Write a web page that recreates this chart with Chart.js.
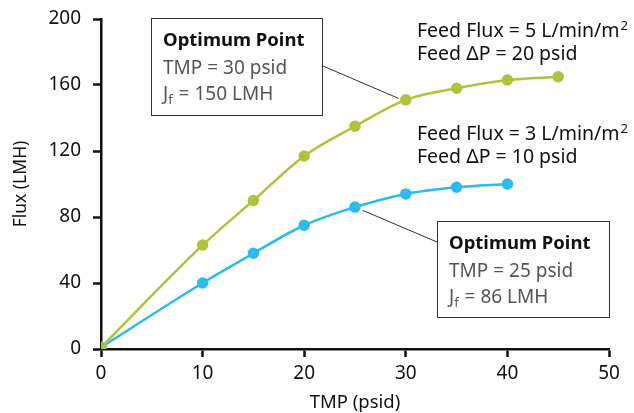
<!DOCTYPE html>
<html>
<head>
<meta charset="utf-8">
<script src="https://cdn.jsdelivr.net/npm/chart.js@4.4.0/dist/chart.umd.min.js"></script>
<style>
  html, body { margin: 0; padding: 0; background: #fff; }
  #wrap { width: 634px; height: 413px; }
</style>
</head>
<body>
<div id="wrap"><canvas id="fluxChart"></canvas></div>
<script>
// TMP (psid) vs Flux (LMH)
const tmpHigh = [0, 10, 15, 20, 25, 30, 35, 40, 45];
const fluxHigh = [1, 63, 90, 117, 135, 151, 158, 163, 165];
const tmpLow = [0, 10, 15, 20, 25, 30, 35, 40];
const fluxLow = [1, 40, 58, 75, 86, 94, 98, 100];

const xTicks = [0, 10, 20, 30, 40, 50];
const yTicks = [0, 40, 80, 120, 160, 200];

const seriesLabels = [
    ['Feed Flux = 5 L/min/m', 'Feed \u0394P = 20 psid'],
    ['Feed Flux = 3 L/min/m', 'Feed \u0394P = 10 psid']
];
const optimumHigh = { x: 30, y: 150, lines: ['Optimum Point', 'TMP = 30 psid', 'J', ' = 150 LMH'] };
const optimumLow = { x: 25, y: 86, lines: ['Optimum Point', 'TMP = 25 psid', 'J', ' = 86 LMH'] };

const green = '#aec43a';
const blue = '#2cbbec';
const FONT = '"Noto Sans", Lato, sans-serif';

function toPoints(xs, ys) {
    return xs.map((x, i) => ({ x: x, y: ys[i] }));
}

// Draw the text notes, optimum boxes and leader lines
const annotations = {
    id: 'annotations',
    afterDatasetsDraw(chart) {
        const ctx = chart.ctx;
        const sx = chart.scales.x;
        const sy = chart.scales.y;
        ctx.save();
        ctx.textBaseline = 'alphabetic';

        function feedLabel(lines, x, y) {
            ctx.fillStyle = '#111';
            ctx.font = '19.5px ' + FONT;
            ctx.fillText(lines[0], x, y);
            const w = ctx.measureText(lines[0]).width;
            ctx.font = '13px ' + FONT;
            ctx.fillText('2', x + w + 1, y - 7);
            ctx.font = '19.5px ' + FONT;
            ctx.fillText(lines[1], x, y + 23);
        }
        feedLabel(seriesLabels[0], 417, 37);
        feedLabel(seriesLabels[1], 417, 140);

        function box(opt, bx, by, bw, bh, lx, ly) {
            ctx.strokeStyle = '#333';
            ctx.lineWidth = 1;
            ctx.strokeRect(bx + 0.5, by + 0.5, bw, bh);
            ctx.beginPath();
            ctx.moveTo(lx, ly);
            const px = sx.getPixelForValue(opt.x);
            const py = sy.getPixelForValue(opt.y);
            const dx = px - lx, dy = py - ly;
            const d = Math.sqrt(dx * dx + dy * dy);
            ctx.lineTo(px - dx / d * 8, py - dy / d * 8);
            ctx.stroke();
            const tx = bx + 12;
            ctx.fillStyle = '#111';
            ctx.font = 'bold 18.5px ' + FONT;
            ctx.fillText(opt.lines[0], tx, by + 28);
            ctx.fillStyle = '#555';
            ctx.font = '19px ' + FONT;
            ctx.fillText(opt.lines[1], tx, by + 56);
            ctx.fillText(opt.lines[2], tx, by + 82);
            const jw = ctx.measureText(opt.lines[2]).width;
            ctx.font = '13px ' + FONT;
            ctx.fillText('f', tx + jw, by + 86);
            const fw = ctx.measureText('f').width;
            ctx.font = '19px ' + FONT;
            ctx.fillText(opt.lines[3], tx + jw + fw + 1, by + 82);
        }
        box(optimumHigh, 151, 18, 171, 97, 323, 66);
        box(optimumLow, 437, 221, 172, 96, 437, 242);
        ctx.restore();
    }
};

const ctx = document.getElementById('fluxChart');
new Chart(ctx, {
    type: 'scatter',
    data: {
        datasets: [{
            data: toPoints(tmpHigh, fluxHigh),
            showLine: true,
            borderColor: green,
            backgroundColor: green,
            borderWidth: 2.5,
            pointRadius: 4.5,
            tension: 0.4,
            cubicInterpolationMode: 'monotone'
        }, {
            data: toPoints(tmpLow, fluxLow),
            showLine: true,
            borderColor: blue,
            backgroundColor: blue,
            borderWidth: 2.5,
            pointRadius: 4.5,
            tension: 0.4,
            cubicInterpolationMode: 'monotone'
        }]
    },
    options: {
        responsive: true,
        maintainAspectRatio: false,
        animation: false,
        layout: { padding: { top: 19, right: 25, left: 0, bottom: 0 } },
        plugins: {
            legend: { display: false },
            tooltip: { enabled: false }
        },
        scales: {
            x: {
                type: 'linear',
                min: 0,
                max: 50,
                afterBuildTicks: axis => { axis.ticks = xTicks.map(v => ({ value: v })); },
                afterFit: axis => { axis.height = 64; axis.paddingLeft = 0; axis.paddingRight = 0; },
                border: { display: true, color: '#111', width: 2.5 },
                grid: { drawOnChartArea: false, drawTicks: true, tickLength: 8, tickColor: '#111', tickWidth: 2.5 },
                ticks: { color: '#111', font: { family: FONT, size: 19 }, padding: 5, maxRotation: 0 },
                title: { display: true, text: 'TMP (psid)', color: '#111', font: { family: FONT, size: 18.5 }, padding: { top: 0, bottom: -1 } }
            },
            y: {
                type: 'linear',
                min: 0,
                max: 200,
                afterBuildTicks: axis => { axis.ticks = yTicks.map(v => ({ value: v })); },
                afterFit: axis => { axis.width = 101; axis.paddingTop = 0; axis.paddingBottom = 0; },
                border: { display: true, color: '#111', width: 2.5 },
                grid: { drawOnChartArea: false, drawTicks: true, tickLength: 8, tickColor: '#111', tickWidth: 2.5 },
                ticks: { color: '#111', font: { family: FONT, size: 19 }, padding: 12 },
                title: { display: true, text: 'Flux (LMH)', color: '#111', font: { family: FONT, size: 17.5 }, padding: { top: 11, bottom: 0 } }
            }
        }
    },
    plugins: [annotations]
});
</script>
</body>
</html>
